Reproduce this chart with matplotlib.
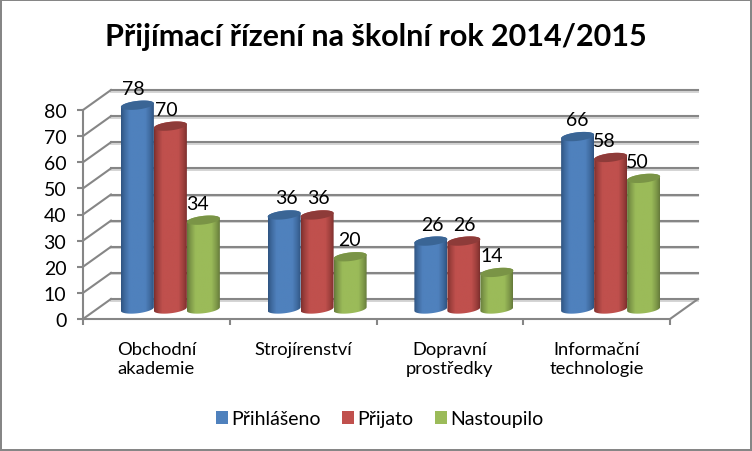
import numpy as np
import matplotlib
matplotlib.use("Agg")
import matplotlib.pyplot as plt
from matplotlib.path import Path
from matplotlib.patches import Patch, Rectangle
from matplotlib.colors import to_rgb

categories = ["Obchodní\nakademie", "Strojírenství", "Dopravní\nprostředky", "Informační\ntechnologie"]
series_names = ["Přihlášeno", "Přijato", "Nastoupilo"]
prihlaseno = [78, 36, 26, 66]
prijato = [70, 36, 26, 58]
nastoupilo = [34, 20, 14, 50]
series_values = [prihlaseno, prijato, nastoupilo]
y_ticks = list(range(0, 81, 10))
title_text = "Přijímací řízení na školní rok 2014/2015"

base_colors = ["#4F81BD", "#C0504D", "#9BBB59"]
edge_colors = ["#2F5380", "#7C2F2D", "#64793A"]
cap_colors = ["#3A6595", "#8E3B39", "#7A9446"]
label_nudge_px = [[-4.5, 2, 2, 0], [-4.5, 1, 1, -6], [-5.5, -1, -5, -6]]

plt.rcParams["font.family"] = ["Lato", "DejaVu Sans"]
W, H = 752, 452
fig = plt.figure(figsize=(W / 100, H / 100), dpi=100, facecolor="white")
L, R, B, T = 83, 670, 320, 111
ax = fig.add_axes([L / W, 1 - B / H, (R - L) / W, (B - T) / H])
ax.patch.set_visible(False)

px_x = len(categories) / (R - L)
px_y = 80 / (B - T)
DX, DY = 28 * px_x, 20 * px_y
GRID = "#868686"
SHADOW = "#D4D4D4"

for v in y_ticks:
    ax.plot([DX, 4 + DX], [v + DY - 1.6 * px_y] * 2, color=SHADOW, lw=1.4, clip_on=False, zorder=1)
    ax.plot([DX, 4 + DX], [v + DY] * 2, color=GRID, lw=1.5, clip_on=False, zorder=2)
    ax.plot([0, DX], [v, v + DY], color=GRID, lw=1.5, clip_on=False, zorder=2)
ax.plot([4, 4 + DX], [0, DY], color=GRID, lw=1.5, clip_on=False, zorder=2)

bar_w = 33 * px_x
cap_a = bar_w / 2
cap_b = 4.3 * px_y
cap_tilt = 1.8 * px_y
t_low = np.linspace(np.pi, 2 * np.pi, 40)
t_up = np.linspace(0, np.pi, 40)
t_all = np.linspace(0, 2 * np.pi, 80)


def arc(cx, cy, t):
    return np.column_stack([cx + cap_a * np.cos(t), cy + cap_b * np.sin(t) + cap_tilt * np.cos(t)])


def gradient(edge, mid):
    e, m = np.array(to_rgb(edge)), np.array(to_rgb(mid))
    u = np.linspace(0, 1, 60)
    k = np.clip(np.minimum(u, 1 - u) / 0.26, 0, 1) ** 0.8
    return (e[None, :] * (1 - k[:, None]) + m[None, :] * k[:, None])[None, :, :]


for s, values in enumerate(series_values):
    for i, val in enumerate(values):
        cx = i + 0.5 + (s - 1) * bar_w + DX / 2
        y0 = DY / 2
        y1 = val + DY / 2
        verts = np.vstack([arc(cx, y0, t_low), arc(cx, y1, t_up), arc(cx, y0, t_low[:1])])
        clip = Path(verts, closed=True)
        im = ax.imshow(gradient(edge_colors[s], base_colors[s]), aspect="auto", interpolation="bilinear",
                       extent=(cx - cap_a, cx + cap_a, y0 - 3 * cap_b, y1 + 3 * cap_b),
                       zorder=5 + s)
        im.set_clip_box(fig.bbox)
        im.set_clip_path(clip, ax.transData)
        ax.fill(*arc(cx, y1, t_all).T, color=cap_colors[s], lw=0, zorder=5 + s, clip_on=False)
        ax.text(cx + label_nudge_px[s][i] * px_x, y1 + 17 * px_y, str(val), ha="center", va="center",
                fontsize=14, color="black", zorder=20, clip_on=False)

ax.set_xlim(0, len(categories))
ax.set_ylim(0, 80)
for side in ["top", "right"]:
    ax.spines[side].set_visible(False)
for side in ["left", "bottom"]:
    ax.spines[side].set_color(GRID)
    ax.spines[side].set_linewidth(1.5)
ax.set_yticks(y_ticks)
ax.set_yticklabels([str(v) for v in y_ticks], fontsize=14)
ax.tick_params(axis="y", length=4, width=1.5, color=GRID, pad=8)
ax.set_xticks(range(len(categories) + 1))
ax.set_xticklabels([""] * (len(categories) + 1))
ax.tick_params(axis="x", which="major", length=4, width=1.5, color=GRID)
ax.set_xticks(np.arange(len(categories)) + 0.5, minor=True)
ax.set_xticklabels(categories, minor=True, fontsize=13.2, linespacing=1.3)
ax.tick_params(axis="x", which="minor", length=0, pad=15.5)

fig.text(376 / W, 1 - 37 / H, title_text, ha="center", va="center", fontsize=22, fontweight="bold", color="black")

handles = [Patch(facecolor=c, edgecolor="none") for c in base_colors]
fig.legend(handles, series_names, loc="center", bbox_to_anchor=(380 / W, 1 - 420 / H), ncol=3, frameon=False,
           fontsize=14, handlelength=0.62, handleheight=0.62, handletextpad=0.17, columnspacing=1.1,
           borderpad=0, borderaxespad=0)

fig.add_artist(Rectangle((1 / W, 1 / H), (W - 2) / W, (H - 2) / H, transform=fig.transFigure,
                         facecolor="none", edgecolor="#868686", linewidth=1.44))

fig.savefig("out.png", dpi=100, facecolor="white")
